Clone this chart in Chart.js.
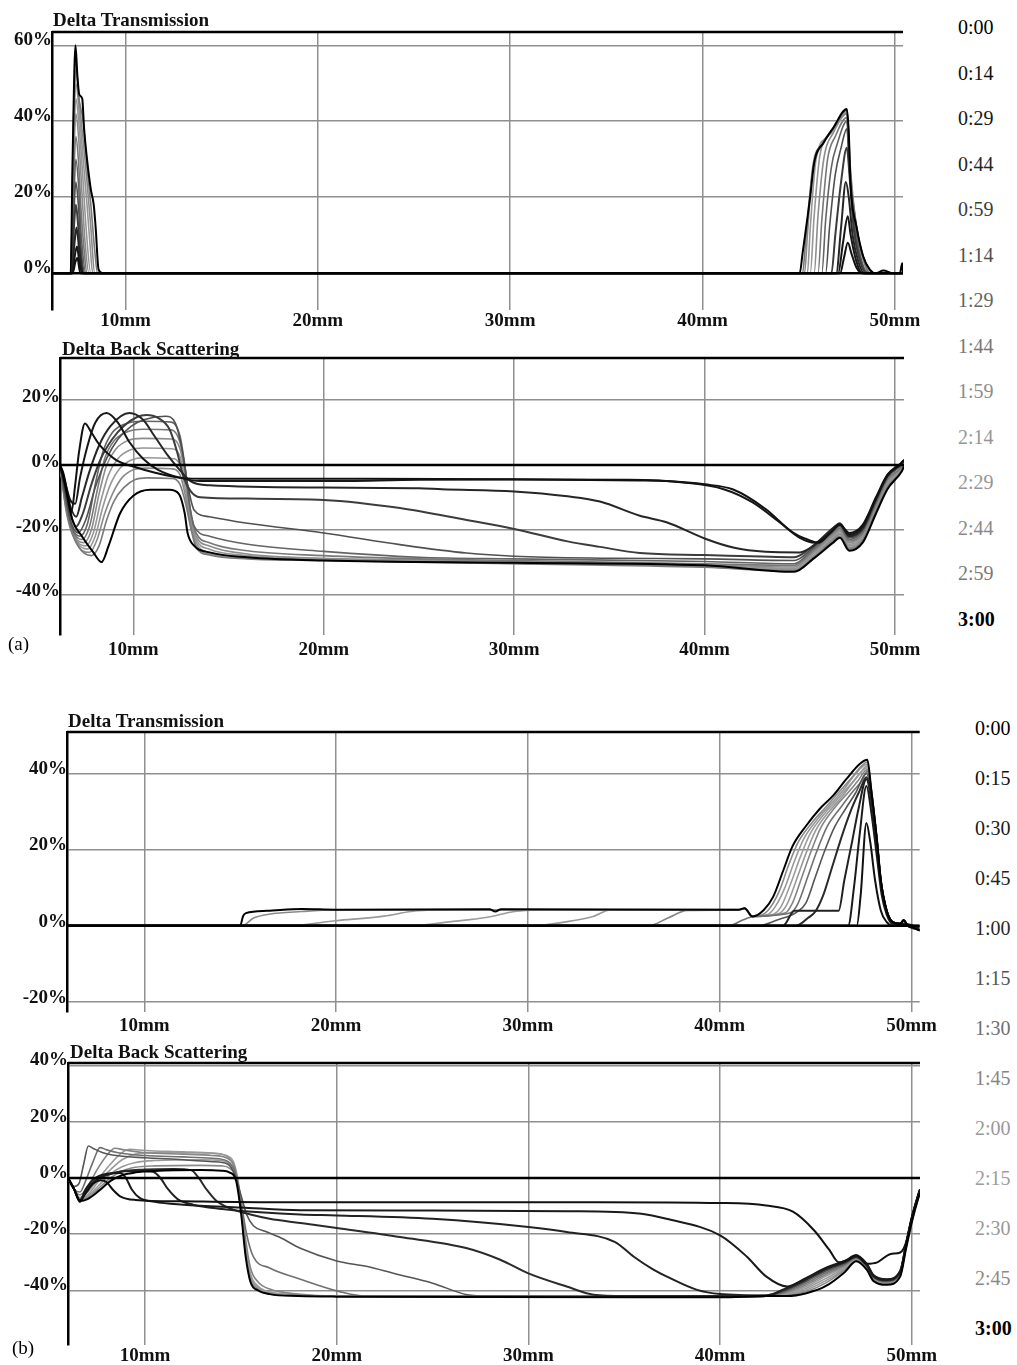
<!DOCTYPE html>
<html>
<head>
<meta charset="utf-8">
<script src="https://cdn.jsdelivr.net/npm/chart.js@4.4.1/dist/chart.umd.min.js"></script>
<style>
  body { margin: 0; background: #fff; width: 1017px; height: 1365px; position: relative; overflow: hidden; font-family: "Liberation Serif", serif; }
  canvas { position: absolute; left: 0; }
  .txt { position: absolute; font-size: 19px; font-weight: bold; line-height: 1; white-space: nowrap; color: #111; }
  .tag { position: absolute; font-size: 19px; line-height: 1; white-space: nowrap; color: #000; }
  .time { position: absolute; font-size: 20px; line-height: 1; white-space: nowrap; }
</style>
</head>
<body>
<canvas id="aTrans" width="940" height="335" style="top:0px"></canvas>
<canvas id="aBack" width="940" height="330" style="top:335px"></canvas>
<canvas id="bTrans" width="940" height="340" style="top:700px"></canvas>
<canvas id="bBack" width="940" height="330" style="top:1035px"></canvas>

<div class="txt" style="left:53px;top:10px">Delta Transmission</div>
<div class="txt" style="left:62px;top:339px">Delta Back Scattering</div>
<div class="txt" style="left:68px;top:711px">Delta Transmission</div>
<div class="txt" style="left:70px;top:1042px">Delta Back Scattering</div>
<div class="tag" style="left:8px;top:634px">(a)</div>
<div class="tag" style="left:12px;top:1338px">(b)</div>

<script>
// scan times (legend on the right)
const timesA = ['0:00','0:14','0:29','0:44','0:59','1:14','1:29','1:44','1:59','2:14','2:29','2:44','2:59','3:00'];
const timesB = ['0:00','0:15','0:30','0:45','1:00','1:15','1:30','1:45','2:00','2:15','2:30','2:45','3:00'];

// tick values
const xTicks = [10, 20, 30, 40, 50];
const yTicksAT = [0, 20, 40, 60];
const yTicksAB = [-40, -20, 0, 20];
const yTicksBT = [-20, 0, 20, 40];
const yTicksBB = [-40, -20, 0, 20, 40];

// (a) Delta Transmission, [mm, %] per scan
const transA = [
  [[6.18,0],[50.42,0]],
  [[6.18,0],[7.25,0],[7.4,3],[7.5,4],[7.65,0],[47.15,0],[47.35,4],[47.55,8],[47.75,5],[48.0,1.5],[48.3,0],[50.42,0]],
  [[6.18,0],[7.25,0],[7.38,5],[7.48,7],[7.6,3],[7.75,0],[47.05,0],[47.3,8],[47.55,15],[47.7,10],[48.0,3],[48.3,0],[50.42,0]],
  [[6.18,0],[7.2,0],[7.35,8],[7.45,12],[7.6,6],[7.8,0],[46.95,0],[47.2,12],[47.45,24],[47.6,20],[47.8,10],[48.1,3],[48.4,0],[50.42,0]],
  [[6.18,0],[7.2,0],[7.32,12],[7.42,18],[7.55,12],[7.7,3],[7.85,0],[46.7,0],[46.9,10],[47.2,24],[47.5,33],[47.65,25],[47.85,12],[48.2,3],[48.5,0],[50.42,0]],
  [[6.18,0],[7.2,0],[7.32,16],[7.42,24],[7.55,18],[7.7,6],[7.9,0],[46.4,0],[46.6,12],[46.9,26],[47.2,33],[47.5,38],[47.65,26],[47.9,12],[48.3,2],[48.6,0],[50.42,0]],
  [[6.18,0],[7.2,0],[7.32,20],[7.42,30],[7.55,24],[7.7,10],[7.95,0],[46.2,0],[46.4,14],[46.7,28],[47.0,34],[47.5,40],[47.65,27],[47.95,12],[48.35,2],[48.7,0],[50.42,0]],
  [[6.18,0],[7.15,0],[7.3,24],[7.42,36],[7.55,30],[7.7,16],[7.85,6],[8.0,0],[46.0,0],[46.2,14],[46.5,30],[46.9,36],[47.5,41],[47.65,27],[48.0,12],[48.4,3],[48.7,0],[50.42,0]],
  [[6.18,0],[7.15,0],[7.3,28],[7.42,42],[7.6,33],[7.75,20],[7.9,8],[8.1,0],[45.8,0],[46.0,15],[46.3,30],[46.8,37],[47.5,42],[47.65,28],[48.0,12],[48.4,3],[48.7,0],[50.42,0]],
  [[6.18,0],[7.15,0],[7.3,32],[7.42,46],[7.6,38],[7.8,24],[7.95,12],[8.2,0],[45.6,0],[45.8,15],[46.1,31],[46.7,37],[47.5,42],[47.65,27],[48.0,12],[48.4,3],[48.7,0],[50.42,0]],
  [[6.18,0],[7.15,0],[7.3,35],[7.42,50],[7.6,42],[7.8,30],[8.0,18],[8.15,8],[8.3,0],[45.45,0],[45.6,12],[45.9,30],[46.5,36],[47.5,42.5],[47.65,28],[48.0,12],[48.4,3.5],[48.7,0.5],[49.0,0],[50.42,0]],
  [[6.18,0],[7.15,0],[7.3,38],[7.42,54],[7.6,45],[7.8,35],[8.0,24],[8.2,12],[8.4,0],[45.3,0],[45.45,10],[45.7,27],[46.2,34],[46.8,38],[47.5,43],[47.65,30],[48.0,12.3],[48.35,4.4],[48.7,0.9],[49.0,0],[50.42,0]],
  [[6.18,0],[7.15,0],[7.3,40],[7.4,57],[7.55,47],[7.8,40],[8.0,28],[8.2,18],[8.4,6],[8.55,0],[45.2,0],[45.35,8],[45.6,22],[45.8,29],[46.3,34.4],[46.8,38.3],[47.5,43],[47.6,37],[47.7,23],[48.0,12.3],[48.35,4.4],[48.7,0.9],[49.0,0],[50.42,0]],
  [[6.18,0],[7.15,0],[7.25,30],[7.4,60],[7.5,52],[7.6,47],[7.75,46],[7.85,38],[8.0,30],[8.2,22],[8.35,18],[8.45,12],[8.6,1],[8.8,0],[45.05,0],[45.2,5.3],[45.6,20.3],[45.8,29],[46.3,34.4],[46.8,38.3],[47.5,43.2],[47.6,37],[47.7,23],[48.0,12.3],[48.35,4.4],[48.7,0.9],[49.0,0],[49.4,0.7],[49.9,0],[50.26,0],[50.38,2.6],[50.42,0]]
];

// (a) Delta Back Scattering
const backA = [
  [[6.15,0],[50.47,0]],
  [[6.15,0],[6.35,-3],[6.55,-9],[6.75,-14.5],[6.95,-6],[7.15,4],[7.46,12.8],[7.8,10],[8.25,6],[9.1,1.5],[10.0,-0.5],[11.2,-2.5],[12.5,-4],[14,-4.3],[20,-4.3],[30,-4.4],[36.6,-4.8],[38,-5],[40,-6],[41.5,-7.6],[43.2,-13.6],[44.6,-20.7],[45.4,-23],[46.0,-24],[46.6,-21],[47.1,-18.5],[47.6,-21],[48.3,-18.5],[49.0,-10],[49.6,-3],[50.2,0],[50.47,1.5]],
  [[6.15,0],[6.4,-5],[6.7,-11],[6.95,-12],[7.2,-4],[7.6,6],[8.0,13],[8.6,16],[9.2,13],[9.8,7],[10.5,2],[11.3,-1.5],[12.5,-4],[13.5,-5],[20,-5],[25,-4.6],[30,-4.5],[36,-4.6],[39,-5.5],[41,-7.5],[42.5,-11.5],[44,-18],[45,-22.5],[45.8,-24],[46.6,-21],[47.1,-18.5],[47.6,-21.5],[48.3,-19],[49.0,-10.3],[49.6,-3.2],[50.3,0.3],[50.47,1.5]],
  [[6.15,0],[6.4,-6],[6.7,-13],[7.0,-16],[7.3,-10],[7.7,-2],[8.2,6],[8.8,12],[9.8,16],[10.5,14],[11.1,9],[11.8,3],[12.5,-2],[13.0,-5],[14,-6.3],[20,-7],[25,-7.2],[26.2,-7.5],[30,-8.2],[32.8,-9.7],[34.5,-11.3],[36.6,-15.7],[38,-17.7],[40,-22.7],[41.5,-25.5],[43.2,-26.8],[45,-27],[45.7,-25],[46.75,-19.5],[47.1,-18],[47.6,-22],[48.3,-19.5],[49.0,-10.5],[49.6,-3.4],[50.35,0.5],[50.47,1.5]],
  [[6.15,0],[6.4,-7],[6.7,-15],[7.0,-19],[7.35,-15],[7.8,-6],[8.3,2],[8.9,8],[9.5,12],[10.2,14.8],[10.7,15.4],[11.3,14.5],[11.9,11],[12.3,4],[12.6,-3],[13.0,-8],[13.5,-10],[16,-10.4],[20,-10.8],[24,-13.3],[27.5,-17],[30,-19.8],[32.8,-23.6],[34.5,-25.3],[36.6,-27.2],[40,-27.8],[43,-28.3],[44.7,-28.5],[45.7,-25],[46.75,-19.5],[47.1,-18.2],[47.6,-22],[48.3,-19.7],[49.0,-10.6],[49.6,-3.5],[50.35,0.5],[50.47,1.5]],
  [[6.15,0],[6.4,-8],[6.7,-17],[7.1,-21],[7.5,-17],[8.0,-7],[8.6,2],[9.2,8],[9.9,12],[10.6,14],[11.7,15],[12.2,13],[12.55,5],[12.85,-6],[13.2,-14],[14,-16],[16,-18],[20,-21],[24,-24.6],[27.5,-27.2],[30,-28.2],[35,-28.8],[40,-29],[44.7,-29.5],[45.7,-25.5],[46.75,-20],[47.1,-18.5],[47.6,-22.5],[48.3,-20],[49.0,-11],[49.6,-3.5],[50.35,0.3],[50.47,1.3]],
  [[6.15,0],[6.4,-9],[6.75,-19],[7.2,-22],[7.6,-18],[8.0,-6],[8.4,4],[8.9,10],[9.5,12.5],[10.5,13.5],[12.0,13.2],[12.45,9],[12.7,0],[12.95,-12],[13.2,-19],[14,-22],[16,-24.5],[20,-26.7],[25,-28.5],[30,-29],[40,-29.8],[44.7,-30.5],[45.7,-26],[46.75,-20.5],[47.1,-19],[47.6,-23],[48.3,-20.5],[49.0,-11.5],[49.6,-4],[50.35,0],[50.47,1]],
  [[6.15,0],[6.4,-10],[6.8,-20],[7.3,-23],[7.7,-19],[8.1,-8],[8.5,2],[9.0,7.5],[9.6,10],[10.5,11],[12.0,10.8],[12.45,7],[12.75,-2],[13.0,-14],[13.3,-21],[14,-24],[16,-26.5],[20,-28],[25,-29],[30,-29.5],[40,-30.5],[44.7,-31],[45.7,-26.5],[46.75,-21],[47.1,-19.5],[47.6,-23.5],[48.3,-21],[49.0,-12],[49.6,-4.5],[50.35,-0.5],[50.47,1]],
  [[6.15,0],[6.45,-11],[6.85,-21],[7.4,-24],[7.8,-20],[8.2,-9],[8.6,0],[9.1,5],[9.7,7.5],[10.5,8.2],[12.0,8],[12.45,5],[12.75,-4],[13.0,-15],[13.3,-22],[14,-25],[16,-27.5],[20,-28.8],[25,-29.3],[30,-29.8],[40,-30.8],[44.7,-31.5],[45.7,-27],[46.75,-21.5],[47.1,-20],[47.6,-24],[48.3,-21.5],[49.0,-12.5],[49.6,-5],[50.35,-0.8],[50.47,0.8]],
  [[6.15,0],[6.45,-12],[6.9,-22],[7.5,-25],[7.9,-21],[8.3,-11],[8.7,-3],[9.2,2],[9.8,4.5],[10.5,5.2],[12.0,5],[12.45,2.5],[12.75,-6],[13.0,-16],[13.3,-23],[14,-26],[16,-28],[20,-29],[30,-30],[40,-31],[44.7,-32],[45.7,-27.5],[46.75,-22],[47.1,-20.5],[47.6,-24.5],[48.3,-22],[49.0,-13],[49.6,-5.5],[50.35,-1],[50.47,0.5]],
  [[6.15,0],[6.45,-13],[6.95,-23],[7.6,-26],[8.0,-22],[8.4,-13],[8.8,-6],[9.3,-1],[9.9,1.5],[10.5,2.2],[12.0,2],[12.45,0],[12.75,-8],[13.0,-17],[13.3,-24],[14,-27],[16,-28.5],[20,-29.2],[30,-30.2],[40,-31.2],[44.7,-32.3],[45.7,-28],[46.75,-22.5],[47.1,-21],[47.6,-25],[48.3,-22.5],[49.0,-13.5],[49.6,-6],[50.35,-1.3],[50.47,0.3]],
  [[6.15,0],[6.5,-14],[7.0,-24],[7.7,-27],[8.1,-23],[8.5,-15],[8.9,-9],[9.4,-4],[10.0,-1.5],[10.6,-1],[12.0,-1.2],[12.45,-3],[12.75,-10],[13.0,-18],[13.3,-25],[14,-27.5],[16,-28.8],[20,-29.4],[30,-30.4],[40,-31.4],[44.7,-32.6],[45.7,-28.5],[46.75,-23],[47.1,-21.5],[47.6,-25.5],[48.3,-23],[49.0,-14],[49.6,-6.5],[50.35,-1.6],[50.47,0]],
  [[6.15,0],[6.5,-15],[7.1,-25],[7.8,-28],[8.2,-25],[8.6,-17],[9.0,-11],[9.5,-7],[10.1,-4.5],[10.7,-4],[12.0,-4.2],[12.45,-6],[12.75,-12],[13.0,-19],[13.3,-25.5],[14,-27.8],[16,-29],[20,-29.5],[30,-30.5],[40,-31.6],[44.7,-32.8],[45.7,-28.8],[46.75,-23.5],[47.1,-22],[47.6,-26],[48.3,-23.5],[49.0,-14.5],[49.6,-7],[50.35,-1.8],[50.47,-0.2]],
  [[6.15,0],[6.35,-4],[6.55,-10],[6.8,-17],[7.3,-22],[7.9,-27],[8.33,-30],[8.7,-25],[9.3,-15],[10.0,-9.5],[10.9,-7.7],[11.9,-7.7],[12.4,-9],[12.7,-15],[12.85,-21],[13.2,-25],[14.0,-27],[16,-28.5],[20,-29.5],[30,-30.2],[40,-31],[44.7,-33],[45.7,-29],[46.75,-24],[47.1,-22.5],[47.6,-26.5],[48.3,-24],[49.0,-15],[49.6,-7.5],[50.35,-2],[50.47,-0.5]]
];

// (b) Delta Transmission
const transB = [
  [[5.97,0],[50.43,0]],
  [[5.97,0],[47.15,0],[47.35,8],[47.65,27],[47.85,22],[48.1,12],[48.4,4],[48.7,1],[49.0,0],[50.43,0]],
  [[5.97,0],[46.7,0],[47.0,10],[47.3,24],[47.65,36.7],[47.9,30],[48.2,18],[48.45,8],[48.7,3],[49.0,0.5],[49.6,0.5],[50.43,-0.5]],
  [[5.97,0],[43.3,0],[43.9,3.9],[46.2,3.9],[46.5,12],[46.9,22],[47.25,31],[47.65,38.5],[47.9,33],[48.2,21],[48.4,11.5],[48.7,4],[49.0,1],[49.4,0.5],[49.8,0],[50.43,-1]],
  [[5.97,0],[44.0,0],[44.6,2],[45.0,3.8],[45.4,8],[45.9,16],[46.4,24],[46.9,31],[47.3,35.5],[47.65,39],[47.9,34],[48.2,22],[48.4,12],[48.7,4],[49.0,1],[49.4,0.5],[49.6,1.2],[49.8,0],[50.43,-1.2]],
  [[5.97,0],[42.0,0],[43.0,1.5],[44.0,3.5],[44.5,6],[45.0,13],[45.5,20],[46.0,26],[46.6,31],[47.1,35],[47.65,40],[47.9,35],[48.2,22.4],[48.4,12],[48.7,4],[49.0,1],[49.4,0.5],[49.6,1.4],[49.8,0],[50.1,-0.5],[50.43,-1.3]],
  [[5.97,0],[40.5,0],[41.2,1.5],[41.8,2.4],[43.7,3.4],[44.1,6],[44.6,13],[45.1,20],[45.6,26],[46.3,31],[46.9,35],[47.4,38],[47.7,40.5],[47.9,35.5],[48.2,22.5],[48.4,12],[48.7,4.1],[49.0,1],[49.4,0.5],[49.6,1.5],[49.8,0],[50.1,-0.5],[50.43,-1.3]],
  [[5.97,0],[36.3,0],[37.3,2],[38.3,4],[41.0,4.1],[41.3,4.5],[41.7,2.4],[43.4,3.3],[43.8,6],[44.3,13],[44.8,20],[45.3,26],[46.0,31],[46.7,35],[47.2,38],[47.7,41],[47.9,35.7],[48.2,22.5],[48.4,12],[48.7,4.1],[49.0,1],[49.4,0.5],[49.6,1.5],[49.8,0],[50.1,-0.5],[50.43,-1.3]],
  [[5.97,0],[30.3,0],[32.0,1],[33.4,2.4],[34.3,4.1],[41.0,4.1],[41.3,4.5],[41.7,2.4],[43.1,3.2],[43.5,5.5],[44.0,12],[44.5,19],[45.0,25],[45.7,30],[46.4,34],[47.0,38],[47.7,41.5],[47.9,35.8],[48.2,22.6],[48.4,12],[48.7,4.1],[49.0,1],[49.4,0.5],[49.6,1.5],[49.8,0],[50.1,-0.5],[50.43,-1.3]],
  [[5.97,0],[23.9,0],[25.9,1],[27.9,2.2],[29.3,3.7],[30.5,4.1],[41.0,4.1],[41.3,4.5],[41.7,2.4],[42.8,3],[43.2,5],[43.7,11],[44.2,18],[44.7,24],[45.4,29],[46.1,33],[46.8,37],[47.3,40],[47.7,42],[47.9,35.8],[48.2,22.6],[48.4,12],[48.7,4.1],[49.0,1],[49.4,0.5],[49.6,1.5],[49.8,0],[50.1,-0.5],[50.43,-1.3]],
  [[5.97,0],[17.5,0],[20,1.3],[22.5,2.5],[23.9,3.7],[25,4.1],[41.0,4.1],[41.3,4.5],[41.7,2.4],[42.5,2.9],[42.9,5],[43.4,10],[43.9,17],[44.4,23],[45.1,28],[45.8,32],[46.5,36],[47.1,40],[47.7,42.5],[47.9,35.9],[48.2,22.6],[48.4,12],[48.7,4.1],[49.0,1],[49.4,0.5],[49.6,1.5],[49.8,0],[50.1,-0.5],[50.43,-1.3]],
  [[5.97,0],[15.1,0],[15.7,2],[16.5,3],[18.2,3.7],[20,4.1],[41.0,4.2],[41.3,4.6],[41.7,2.5],[42.2,2.8],[42.6,4.5],[43.1,9],[43.6,16],[44.1,22],[44.8,27],[45.5,31],[46.2,35],[46.9,39],[47.4,42],[47.7,43],[47.9,35.9],[48.2,22.6],[48.4,12],[48.7,4.1],[49.0,1],[49.4,0.5],[49.6,1.5],[49.8,0],[50.1,-0.5],[50.43,-1.3]],
  [[5.97,0],[15.0,0],[15.15,2.5],[15.3,3.3],[16.4,3.9],[18.2,4.4],[20,4.2],[28.0,4.3],[28.3,3.7],[28.6,4.3],[41.0,4.2],[41.3,4.6],[41.7,2.4],[42.3,4.1],[42.8,7.7],[43.3,14.3],[43.8,20.9],[44.5,26.2],[45.2,30.6],[45.9,34.1],[46.6,38.5],[47.3,42.5],[47.7,43.6],[47.9,35.9],[48.2,22.6],[48.4,12],[48.7,4.1],[49.0,1],[49.4,0.5],[49.6,1.5],[49.8,0],[50.1,-0.5],[50.43,-1.3]]
];

// (b) Delta Back Scattering
const backB = [
  [[5.98,0],[50.43,0]],
  [[5.98,0],[6.3,-4],[6.6,-8],[6.9,-5.5],[7.3,-2],[7.7,-0.8],[8.0,-1.5],[8.3,-4],[8.7,-6.5],[9.5,-7.8],[12,-8.3],[16,-8.6],[25,-8.6],[33.7,-8.6],[40,-8.9],[42.4,-9.8],[43.8,-12],[44.9,-18.6],[45.7,-25.6],[46.2,-30],[46.7,-29],[47.1,-27.5],[47.65,-30.5],[48.2,-30],[48.9,-27],[49.4,-26.5],[49.7,-23],[50.0,-14],[50.35,-5.6],[50.43,-4]],
  [[5.98,0],[6.3,-4],[6.6,-8],[6.9,-4],[7.4,0],[8.0,1.5],[8.7,1.8],[9.0,0],[9.3,-4],[9.7,-7],[10.5,-8.5],[12,-9.5],[15,-10.5],[18.1,-11.5],[25,-11.6],[32,-11.8],[35.9,-12.7],[37.2,-14.5],[40,-20.4],[41.4,-28],[42.4,-35],[43.5,-38.6],[44.5,-35.5],[45.5,-32],[46.5,-29.5],[47.1,-27.5],[47.65,-30.5],[48.0,-34.5],[48.7,-36],[49.4,-33],[49.7,-23.5],[50.0,-14.2],[50.35,-5.8],[50.43,-4.2]],
  [[5.98,0],[6.3,-4],[6.6,-8.5],[6.9,-5],[7.5,-0.5],[8.5,2],[9.5,2.5],[10.4,2.2],[10.8,0],[11.2,-4],[11.7,-7.5],[12.5,-9.5],[14,-11],[16,-12.2],[18.1,-13],[20,-13.3],[25,-14.5],[30,-17.4],[32,-19.2],[34.5,-22.7],[35.5,-28],[36.5,-32.5],[37.2,-35],[38.8,-39.8],[40,-41.3],[42.4,-41.8],[43.5,-39],[44.5,-35.8],[45.5,-32.3],[46.5,-29.8],[47.1,-27.8],[47.65,-30.8],[48.0,-34.8],[48.7,-36.2],[49.4,-33.2],[49.7,-23.7],[50.0,-14.4],[50.35,-6],[50.43,-4.4]],
  [[5.98,0],[6.3,-4],[6.6,-8],[6.9,-4.5],[7.5,-0.5],[8.5,2],[10,3],[11.5,3.2],[12.4,2.8],[12.8,0],[13.2,-4],[13.7,-8],[14.5,-11],[15.5,-13],[16.5,-14.5],[18.1,-16],[20,-17.8],[23.3,-21],[26.8,-25],[28.5,-29],[30,-33.9],[32,-38.6],[33.4,-41.5],[35,-42],[40,-42],[42.4,-41.8],[43.5,-39.3],[44.5,-36.2],[45.5,-32.6],[46.5,-30],[47.1,-28],[47.65,-31],[48.0,-35],[48.7,-36.4],[49.4,-33.4],[49.7,-23.8],[50.0,-14.5],[50.35,-6.1],[50.43,-4.5]],
  [[5.98,0],[6.3,-3],[6.55,-2],[6.8,5],[7.04,11.4],[7.3,10.5],[7.8,9],[8.5,8],[10,7.2],[12,6.5],[13.5,5.8],[14.3,5],[14.7,1],[15.0,-6],[15.3,-13],[15.65,-17],[16.3,-19],[17,-21],[18.1,-25],[20,-29.5],[21.6,-31.5],[23,-34],[25,-37.4],[26.8,-41.5],[28,-42],[40,-42.2],[42.4,-42],[43.5,-39.8],[44.5,-36.8],[45.5,-33.2],[46.5,-30.4],[47.1,-28.2],[47.65,-31.2],[48.0,-35.2],[48.7,-36.6],[49.4,-33.6],[49.7,-24],[50.0,-14.6],[50.35,-6.2],[50.43,-4.6]],
  [[5.98,0],[6.3,-4],[6.6,-5],[6.9,-1],[7.3,6],[7.65,10.8],[8.0,10],[8.6,9],[10,8],[12,7.5],[13.5,7],[14.3,6],[14.7,2],[15.0,-8],[15.3,-20],[15.65,-28],[16.5,-32],[18.1,-36],[20.2,-40.5],[21.5,-42],[40,-42.2],[42.4,-42],[43.5,-40.2],[44.5,-37.4],[45.5,-33.8],[46.5,-30.8],[47.1,-28.4],[47.65,-31.4],[48.0,-35.3],[48.7,-36.8],[49.4,-33.8],[49.7,-24.2],[50.0,-14.8],[50.35,-6.3],[50.43,-4.7]],
  [[5.98,0],[6.3,-4],[6.6,-6],[7.0,-3],[7.5,3],[8.0,8],[8.43,10.6],[8.9,10],[10,9],[12,8.5],[13.5,8],[14.3,7],[14.7,3],[15.0,-8],[15.25,-22],[15.5,-32],[15.9,-37],[16.5,-39.5],[18,-41.3],[20,-42],[40,-42.2],[42.4,-42],[43.5,-40.6],[44.5,-38],[45.5,-34.4],[46.5,-31.2],[47.1,-28.6],[47.65,-31.6],[48.0,-35.5],[48.7,-37],[49.4,-34],[49.7,-24.3],[50.0,-14.9],[50.35,-6.4],[50.43,-4.8]],
  [[5.98,0],[6.3,-4],[6.6,-7],[7.0,-5],[7.6,0],[8.2,5],[8.8,9],[9.2,10.2],[10,9.8],[12,9.3],[13.5,8.8],[14.3,7.8],[14.7,4],[15.0,-8],[15.25,-24],[15.5,-34],[15.9,-38.5],[16.5,-40.5],[18,-41.6],[20,-42],[40,-42.3],[42.4,-42],[43.5,-41],[44.5,-38.6],[45.5,-35],[46.5,-31.6],[47.1,-28.8],[47.65,-31.8],[48.0,-35.7],[48.7,-37.2],[49.4,-34.2],[49.7,-24.4],[50.0,-15],[50.35,-6.5],[50.43,-4.9]],
  [[5.98,0],[6.3,-4],[6.6,-7.5],[7.0,-6],[7.6,-1],[8.2,3],[8.8,6.5],[9.5,8.5],[10.5,9],[12.9,9],[14.0,8.5],[14.4,7],[14.75,2],[15.0,-10],[15.25,-26],[15.5,-35],[15.9,-39],[16.5,-40.8],[18,-41.7],[20,-42],[40,-42.3],[42.4,-42],[43.5,-41.3],[44.5,-39.2],[45.5,-35.8],[46.5,-32],[47.1,-29],[47.65,-32],[48.0,-36],[48.7,-37.4],[49.4,-34.4],[49.7,-24.6],[50.0,-15.2],[50.35,-6.6],[50.43,-5]],
  [[5.98,0],[6.3,-4],[6.6,-7.8],[7.0,-6.5],[7.6,-2.5],[8.2,1.5],[8.8,4],[9.5,5.5],[10.5,6.2],[12.9,6.5],[14.0,6.2],[14.4,5],[14.75,1],[15.0,-10],[15.25,-26.5],[15.5,-35.5],[15.9,-39.3],[16.5,-41],[18,-41.8],[20,-42],[40,-42.3],[42.4,-42],[43.5,-41.6],[44.5,-39.8],[45.5,-36.6],[46.5,-32.4],[47.1,-29.2],[47.65,-32.2],[48.0,-36.2],[48.7,-37.6],[49.4,-34.6],[49.7,-24.8],[50.0,-15.4],[50.35,-6.7],[50.43,-5.1]],
  [[5.98,0],[6.3,-4],[6.6,-8],[7.0,-7],[7.6,-3.5],[8.2,0],[8.8,2.5],[9.5,3.8],[10.5,4.3],[12.9,4.5],[14.0,4.3],[14.4,3.5],[14.75,0],[15.0,-11],[15.25,-27],[15.5,-36],[15.9,-39.6],[16.5,-41.2],[18,-41.9],[20,-42],[40,-42.4],[42.4,-42],[43.5,-41.8],[44.5,-40.4],[45.5,-37.4],[46.5,-32.8],[47.1,-29.4],[47.65,-32.4],[48.0,-36.4],[48.7,-37.8],[49.4,-34.8],[49.7,-25],[50.0,-15.6],[50.35,-6.8],[50.43,-5.2]],
  [[5.98,0],[6.3,-4],[6.6,-8.2],[7.0,-7.5],[7.6,-4.5],[8.2,-1],[8.8,1],[9.5,2],[10.5,2.5],[12.9,2.8],[14.0,2.6],[14.4,2],[14.75,-1],[15.0,-12],[15.25,-28],[15.5,-37],[15.9,-40],[16.5,-41.3],[18,-42],[20,-42.2],[40,-42.4],[42.4,-42],[43.5,-42],[44.5,-41],[45.5,-38.5],[46.5,-33.5],[47.1,-29.6],[47.65,-32.6],[48.0,-36.6],[48.7,-38],[49.4,-35],[49.7,-25.2],[50.0,-15.8],[50.35,-7],[50.43,-5.4]]
];

// grey shade per scan time (legend text and curves)
const greyA = ['#000000','#111111','#161616','#262626','#3c3c3c','#505050','#646464','#787878','#8c8c8c','#969696','#969696','#8a8a8a','#7a7a7a','#000000'];
const greyB = ['#000000','#111111','#1a1a1a','#222222','#2a2a2a','#555555','#707070','#858585','#999999','#9c9c9c','#999999','#8a8a8a','#000000'];

const serif = '"Liberation Serif", "Times New Roman", serif';
const gridGrey = '#8f8f8f';

const topLine = {
  id: 'topLine',
  afterDraw(chart) {
    const { ctx, chartArea: a } = chart;
    ctx.save();
    ctx.strokeStyle = '#000';
    ctx.lineWidth = 2.5;
    ctx.beginPath();
    ctx.moveTo(a.left, a.top);
    ctx.lineTo(a.right, a.top);
    ctx.stroke();
    ctx.restore();
  }
};

function panel(id, curves, greys, yTicks, p) {
  const canvas = document.getElementById(id);
  const W = canvas.width, H = canvas.height;
  const datasets = curves.map((c, i) => {
    const shade = parseInt(greys[i].slice(1, 3), 16);
    return {
      data: c.map(([x, y]) => ({ x, y })),
      borderColor: greys[i],
      borderWidth: i === 0 ? 2.5 : (shade < 0x40 ? 2 : 1.6),
      order: i === 0 ? -1 : shade,
      pointRadius: 0,
      showLine: true,
      fill: false,
      cubicInterpolationMode: 'monotone'
    };
  });
  const tickFont = { family: serif, size: 19, weight: 'bold' };
  new Chart(canvas, {
    type: 'scatter',
    data: { datasets },
    options: {
      responsive: false,
      animation: false,
      events: [],
      layout: { padding: { left: 0, top: p.top - p.cTop, right: W - p.right, bottom: 0 } },
      plugins: { legend: { display: false }, tooltip: { enabled: false } },
      scales: {
        x: {
          type: 'linear', min: p.x[0], max: p.x[1],
          afterBuildTicks: s => { s.ticks = xTicks.map(v => ({ value: v })); },
          afterFit: s => { s.height = p.cTop + H - p.bottom; },
          grid: { color: gridGrey, lineWidth: 1.5, drawTicks: false },
          border: { display: false },
          ticks: { callback: v => v + 'mm', font: tickFont, color: '#111', padding: p.xPad, maxRotation: 0, autoSkip: false }
        },
        y: {
          type: 'linear', min: p.y[0], max: p.y[1],
          afterBuildTicks: s => { s.ticks = yTicks.map(v => ({ value: v })); },
          afterFit: s => { s.width = p.left; },
          grid: { color: gridGrey, lineWidth: 1.5, drawTicks: false },
          border: { display: true, color: '#000', width: 2.5 },
          ticks: { callback: v => v + '%', font: tickFont, color: '#111', padding: 0, labelOffset: p.yOff, autoSkip: false }
        }
      }
    },
    plugins: [topLine]
  });
}

panel('aTrans', transA, greyA, yTicksAT, { cTop: 0, top: 32, bottom: 310, left: 52, right: 903, x: [6.18, 50.42], y: [-9.7, 63.5], xPad: 0, yOff: -5 });
panel('aBack', backA, greyA, yTicksAB, { cTop: 335, top: 358, bottom: 635, left: 60, right: 904, x: [6.15, 50.47], y: [-52.5, 33.0], xPad: 4, yOff: -3 });
panel('bTrans', transB, greyB, yTicksBT, { cTop: 700, top: 732, bottom: 1012, left: 67, right: 920, x: [5.97, 50.43], y: [-22.7, 50.9], xPad: 3, yOff: -4 });
panel('bBack', backB, greyB, yTicksBB, { cTop: 1035, top: 1063, bottom: 1345, left: 68, right: 920, x: [5.98, 50.43], y: [-59.4, 40.9], xPad: 0, yOff: -5 });

// time legend columns
function timeColumn(times, greys, left, y0, step) {
  times.forEach((t, i) => {
    const d = document.createElement('div');
    d.className = 'time';
    d.textContent = t;
    d.style.left = left + 'px';
    d.style.top = (y0 + i * step - 10) + 'px';
    d.style.color = greys[i];
    if (i === times.length - 1) d.style.fontWeight = 'bold';
    document.body.appendChild(d);
  });
}
timeColumn(timesA, greyA, 958, 27, 45.5);
timeColumn(timesB, greyB, 975, 728, 50);
</script>
</body>
</html>
